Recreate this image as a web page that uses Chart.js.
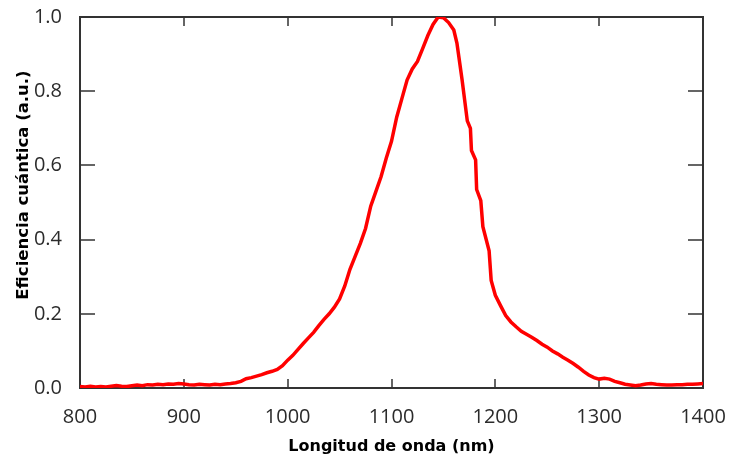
<!DOCTYPE html>
<html>
<head>
<meta charset="utf-8">
<script src="https://cdn.jsdelivr.net/npm/chart.js@4/dist/chart.umd.min.js"></script>
<style>
  html, body { margin: 0; padding: 0; background: #fff; }
  canvas { display: block; }
</style>
</head>
<body>
<canvas id="chart" width="729" height="459"></canvas>
<script>
// Wavelength (nm) and quantum efficiency (a.u.)
const wavelength = [
  800, 805, 810, 815, 820, 825, 830, 835, 840, 845, 850, 855, 860, 865, 870, 875, 880, 885, 890, 895,
  900, 905, 910, 915, 920, 925, 930, 935, 940, 945, 950, 955, 960, 965, 970, 975, 980, 985, 990, 995,
  1000, 1005, 1010, 1015, 1020, 1025, 1030, 1035, 1040, 1045, 1050, 1055, 1060, 1065, 1070, 1075, 1080, 1085, 1090, 1095,
  1100, 1105, 1110, 1115, 1120, 1125, 1130, 1135, 1140, 1145, 1150, 1155, 1160, 1163, 1165, 1168, 1173, 1176, 1177, 1181,
  1182, 1186, 1188, 1194, 1196, 1200, 1205, 1210, 1215, 1220, 1225, 1230, 1235, 1240, 1245, 1250, 1255, 1260, 1265,
  1270, 1275, 1280, 1285, 1290, 1295, 1300, 1305, 1310, 1315, 1320, 1325, 1330, 1335, 1340, 1345, 1350, 1355, 1360, 1365,
  1370, 1375, 1380, 1385, 1390, 1395, 1400
]
const efficiency = [
  0.004, 0.003, 0.005, 0.003, 0.004, 0.003, 0.005, 0.007, 0.005, 0.004, 0.006, 0.008, 0.006, 0.009, 0.008, 0.010, 0.009, 0.011, 0.010, 0.012,
  0.011, 0.009, 0.008, 0.010, 0.009, 0.008, 0.010, 0.009, 0.011, 0.012, 0.014, 0.018, 0.025, 0.028, 0.032, 0.036, 0.041, 0.045, 0.050, 0.060,
  0.075, 0.088, 0.104, 0.120, 0.135, 0.150, 0.168, 0.185, 0.200, 0.218, 0.240, 0.275, 0.320, 0.355, 0.390, 0.430, 0.490, 0.530, 0.570, 0.620,
  0.665, 0.730, 0.780, 0.830, 0.860, 0.880, 0.915, 0.950, 0.980, 1.000, 0.998, 0.985, 0.965, 0.930, 0.890, 0.830, 0.720, 0.700, 0.640, 0.615,
  0.535, 0.505, 0.435, 0.370, 0.290, 0.250, 0.222, 0.195, 0.178, 0.165, 0.153, 0.145, 0.137, 0.128, 0.118, 0.110, 0.100, 0.092, 0.083,
  0.075, 0.066, 0.056, 0.045, 0.035, 0.028, 0.024, 0.026, 0.024, 0.018, 0.014, 0.010, 0.008, 0.006, 0.008, 0.011, 0.012, 0.010, 0.009, 0.008,
  0.008, 0.009, 0.009, 0.010, 0.010, 0.011, 0.012
]

const xTitle = 'Longitud de onda (nm)'
const yTitle = 'Eficiencia cuántica (a.u.)'
const axisColor = '#333333'

// Box around the plot with ticks pointing inwards on all four sides
const framePlugin = {
  id: 'frame',
  beforeDatasetsDraw(chart) {
    const { ctx, chartArea: a, scales: { x, y } } = chart
    ctx.save()
    ctx.strokeStyle = axisColor
    ctx.lineWidth = 2
    ctx.strokeRect(a.left, a.top, a.right - a.left, a.bottom - a.top)
    ctx.lineWidth = 1.5
    ctx.beginPath()
    x.ticks.forEach(t => {
      const px = Math.round(x.getPixelForValue(t.value))
      ctx.moveTo(px, a.bottom); ctx.lineTo(px, a.bottom - 9)
      ctx.moveTo(px, a.top); ctx.lineTo(px, a.top + 9)
    })
    y.ticks.forEach(t => {
      const py = Math.round(y.getPixelForValue(t.value))
      ctx.moveTo(a.left, py); ctx.lineTo(a.left + 15, py)
      ctx.moveTo(a.right, py); ctx.lineTo(a.right - 15, py)
    })
    ctx.stroke()
    ctx.restore()
  },
  afterDraw(chart) {
    const { ctx } = chart
    ctx.save()
    ctx.translate(24, 185)
    ctx.rotate(-Math.PI / 2)
    ctx.font = 'bold 16.5px "DejaVu Sans"'
    ctx.fillStyle = '#000'
    ctx.textAlign = 'center'
    ctx.textBaseline = 'middle'
    ctx.fillText(yTitle, 0, 0)
    ctx.restore()
  }
}

const tickFont = { family: 'Open Sans', size: 20 }

new Chart(document.getElementById('chart'), {
  type: 'line',
  data: {
    datasets: [{
      data: wavelength.map((w, i) => ({ x: w, y: efficiency[i] })),
      borderColor: '#ff0000',
      borderWidth: 3.5,
      pointRadius: 0,
      fill: false,
      tension: 0
    }]
  },
  options: {
    responsive: false,
    animation: false,
    devicePixelRatio: 1,
    layout: { padding: { top: 17, right: 26, left: 0, bottom: 0 } },
    plugins: { legend: { display: false }, tooltip: { enabled: false } },
    scales: {
      x: {
        type: 'linear',
        min: 800,
        max: 1400,
        ticks: { stepSize: 100, color: '#2b2b2b', font: tickFont, padding: 9, maxRotation: 0, callback: v => String(v) },
        grid: { display: false },
        border: { display: false },
        title: {
          display: true,
          text: xTitle,
          color: '#000',
          font: { family: 'DejaVu Sans', size: 16, weight: 'bold' },
          padding: { top: 0, bottom: 3 }
        },
        afterFit: (s) => { s.height = 71; s.paddingLeft = 0; s.paddingRight = 0 }
      },
      y: {
        min: 0,
        max: 1,
        ticks: { stepSize: 0.2, color: '#2b2b2b', font: tickFont, padding: 10, callback: v => v.toFixed(1) },
        grid: { display: false },
        border: { display: false },
        afterFit: (s) => { s.width = 80; s.paddingTop = 0; s.paddingBottom = 0 }
      }
    }
  },
  plugins: [framePlugin]
})
</script>
</body>
</html>
